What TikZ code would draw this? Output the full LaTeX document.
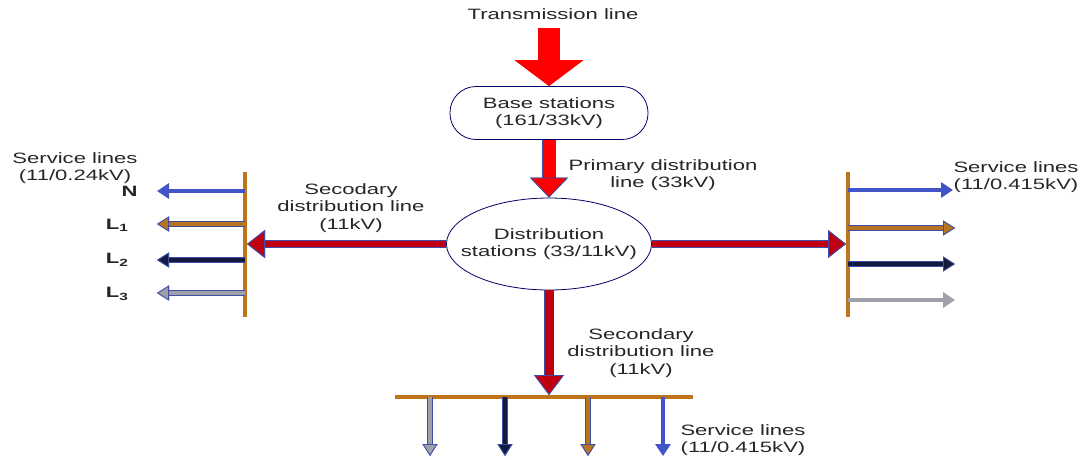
\documentclass[tikz,border=0pt]{standalone}
\usepackage{fontspec}
\setmainfont{Liberation Sans}[FakeStretch=1.47]
\usepackage{tikz}
\usetikzlibrary{arrows.meta,shapes.geometric}

\definecolor{edgeblue}{HTML}{3F4FA8}
\definecolor{feedred}{HTML}{C00010}
\definecolor{barbrown}{HTML}{C0741A}
\definecolor{wirebrown}{HTML}{B8741E}
\definecolor{wirenavy}{HTML}{141A3C}
\definecolor{wiregray}{HTML}{A0A0A8}
\definecolor{wireblue}{HTML}{4154C8}

\begin{document}
\begin{tikzpicture}
	[x=1pt,y=-1pt,
	every node/.style={font=\fontsize{15}{17.5}\selectfont, text=black!85, align=center},
	station/.style={draw=black!60!blue, line width=0.8pt, fill=white},
	bar/.style={draw=barbrown, line width=4pt},
	bigfeed/.style={draw=red, line width=22pt, -{Triangle[length=26pt,width=68pt]}},
	primfeed/.style={draw=red, line width=13pt,
		-{Triangle[length=20pt,width=38pt,line width=0.8pt,color=edgeblue,fill=red]},
		preaction={draw=edgeblue, line width=14.6pt}},
	sidefeed/.style={draw=feedred, line width=6pt, shorten >=2pt,
		-{Triangle[length=18pt,width=28pt,line width=0.8pt,color=edgeblue,fill=feedred]},
		preaction={draw=edgeblue, line width=7.6pt}},
	downfeed/.style={draw=feedred, line width=9pt, shorten >=2pt,
		-{Triangle[length=20pt,width=30pt,line width=0.8pt,color=edgeblue,fill=feedred]},
		preaction={draw=edgeblue, line width=10.6pt}},
	svc/.style={draw=#1, line width=4pt,
		-{Triangle[length=12pt,width=15pt,line width=0.8pt,color=edgeblue,fill=#1]},
		preaction={draw=edgeblue, line width=5.6pt}},
	plainsvc/.style={draw=#1, line width=4pt, -{Triangle[length=12pt,width=15pt,color=#1]}}]

	\useasboundingbox (0,0) rectangle (1085,459);

	\node (trans) at (553,14) {Transmission line};
	\coordinate (transtop) at (549,28);
	\node[station, rounded corners=26pt, minimum width=198pt, minimum height=53pt] (base) at (549,113) {Base stations\\(161/33kV)};
	\node[station, ellipse, minimum width=205pt, minimum height=92pt] (dist) at (549,244) {};
	\node (distlabel) at (dist.center) {Distribution\\stations (33/11kV)};

	\draw[bigfeed] (transtop) -- (base.north);
	\draw[primfeed] (base.south) -- (dist.north);
	\node (primlabel) at (663,175) {Primary distribution\\line (33kV)};

	% left bus
	\coordinate (lbt) at (245,172);
	\coordinate (lbb) at (245,317);
	\draw[bar] (lbt) -- (lbb);
	\draw[sidefeed] (dist.west) -- (dist.west -| lbt);
	\node (leftlabel) at (351,208) {Secodary\\distribution line\\(11kV)};
	\coordinate (lN) at (157,191);
	\coordinate (lL1) at (157,224);
	\coordinate (lL2) at (157,260);
	\coordinate (lL3) at (157,293);
	\draw[plainsvc=wireblue] (lbt |- lN) -- (lN);
	\draw[svc=wirebrown] (lbt |- lL1) -- (lL1);
	\draw[svc=wirenavy] (lbt |- lL2) -- (lL2);
	\draw[svc=wiregray] (lbt |- lL3) -- (lL3);
	\node[anchor=east] (nN) at (141,191) {\textbf{N}};
	\node[anchor=east] (nL1) at (132,225) {\textbf{L}\textsubscript{\textbf{1}}};
	\node[anchor=east] (nL2) at (132,260) {\textbf{L}\textsubscript{\textbf{2}}};
	\node[anchor=east] (nL3) at (132,294) {\textbf{L}\textsubscript{\textbf{3}}};
	\node (leftsvc) at (75,168) {Service lines\\(11/0.24kV)};

	% right bus
	\coordinate (rbt) at (848,172);
	\coordinate (rbb) at (848,317);
	\draw[bar] (rbt) -- (rbb);
	\draw[sidefeed] (dist.east) -- (dist.east -| rbt);
	\coordinate (r1) at (953,190);
	\coordinate (r2) at (955,228);
	\coordinate (r3) at (955,264);
	\coordinate (r4) at (955,300);
	\draw[plainsvc=wireblue] (rbt |- r1) -- (r1);
	\draw[svc=wirebrown] (rbt |- r2) -- (r2);
	\draw[svc=wirenavy] (rbt |- r3) -- (r3);
	\draw[plainsvc=wiregray] (rbt |- r4) -- (r4);
	\node (rightsvc) at (1016,177) {Service lines\\(11/0.415kV)};

	% bottom bus
	\coordinate (bbl) at (395,397);
	\coordinate (bbr) at (693,397);
	\draw[bar] (bbl) -- (bbr);
	\draw[downfeed] (dist.south) -- (dist.south |- bbl);
	\node (downlabel) at (641,353) {Secondary\\distribution line\\(11kV)};
	\coordinate (b1) at (430,456);
	\coordinate (b2) at (505,456);
	\coordinate (b3) at (588,456);
	\coordinate (b4) at (663,456);
	\draw[svc=wiregray] (bbl -| b1) -- (b1);
	\draw[svc=wirenavy] (bbl -| b2) -- (b2);
	\draw[svc=wirebrown] (bbl -| b3) -- (b3);
	\draw[plainsvc=wireblue] (bbl -| b4) -- (b4);
	\node (bottomsvc) at (743,440) {Service lines\\(11/0.415kV)};
\end{tikzpicture}
\end{document}
